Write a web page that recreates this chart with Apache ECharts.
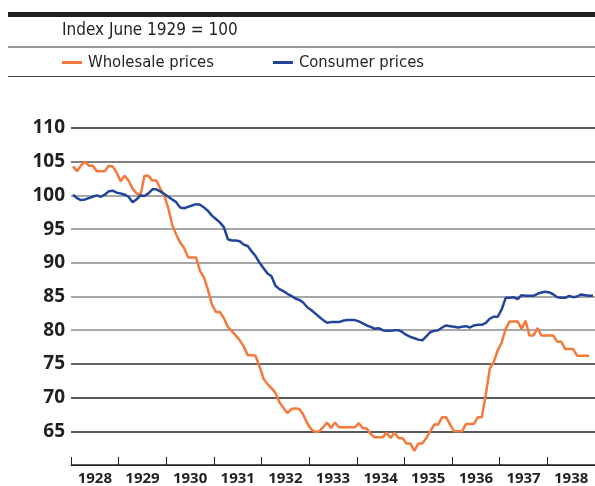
<!DOCTYPE html>
<html>
<head>
<meta charset="utf-8">
<script src="https://cdn.jsdelivr.net/npm/echarts@6/dist/echarts.min.js"></script>
<style>
  html, body { margin: 0; padding: 0; background: #fff; }
  #chart { width: 595px; height: 486px; }
</style>
</head>
<body>
<div id="chart"></div>
<script>
// monthly index, Jan 1928 .. Dec 1938 (June 1929 = 100)
const years = ['1928', '1929', '1930', '1931', '1932', '1933', '1934', '1935', '1936', '1937', '1938'];
const yTicks = [65, 70, 75, 80, 85, 90, 95, 100, 105, 110];

const wholesale = [
  104.3, 103.6, 104.4, 105.0, 104.4, 104.4, 103.6, 103.6, 103.6, 104.4, 104.3, 103.4,
  102.1, 102.9, 102.2, 101.0, 100.3, 100.0, 102.9, 102.9, 102.2, 102.2, 101.0, 100.0,
  98.1, 95.6, 94.2, 93.0, 92.2, 90.8, 90.8, 90.8, 88.8, 87.8, 86.0, 83.8,
  82.7, 82.7, 81.8, 80.5, 79.9, 79.2, 78.5, 77.6, 76.3, 76.3, 76.2, 74.6,
  72.8, 72.0, 71.4, 70.7, 69.3, 68.5, 67.7, 68.3, 68.4, 68.3, 67.5, 66.2,
  65.3, 64.9, 65.0, 65.6, 66.3, 65.5, 66.3, 65.6, 65.6, 65.6, 65.6, 65.6,
  66.2, 65.5, 65.4, 64.6, 64.1, 64.1, 64.1, 64.8, 64.0, 64.8, 64.0, 64.0,
  63.2, 63.2, 62.1, 63.2, 63.2, 64.0, 65.0, 66.0, 66.0, 67.1, 67.1, 66.0,
  65.0, 65.0, 65.0, 66.1, 66.1, 66.1, 67.1, 67.1, 70.5, 74.3, 75.3, 77.0,
  78.2, 80.2, 81.3, 81.3, 81.3, 80.2, 81.4, 79.2, 79.2, 80.3, 79.2, 79.2,
  79.2, 79.2, 78.3, 78.3, 77.2, 77.2, 77.2, 76.2, 76.2, 76.2, 76.2
];

const consumer = [
  100.1, 99.6, 99.3, 99.4, 99.6, 99.8, 100.0, 99.8, 100.1, 100.6, 100.7, 100.4,
  100.3, 100.1, 99.8, 99.0, 99.4, 100.0, 99.9, 100.3, 100.9, 100.9, 100.6, 100.2,
  99.8, 99.4, 99.0, 98.2, 98.1, 98.3, 98.5, 98.7, 98.6, 98.2, 97.7, 97.0,
  96.5, 96.0, 95.3, 93.5, 93.3, 93.3, 93.2, 92.7, 92.5, 91.7, 91.0, 90.0,
  89.2, 88.4, 88.0, 86.6, 86.1, 85.8, 85.4, 85.1, 84.7, 84.5, 84.1, 83.4,
  83.0, 82.5, 82.0, 81.5, 81.1, 81.2, 81.2, 81.2, 81.4, 81.5, 81.5, 81.5,
  81.3, 81.0, 80.7, 80.5, 80.2, 80.3, 80.0, 79.9, 79.9, 80.0, 80.0, 79.7,
  79.3, 79.0, 78.8, 78.6, 78.5, 79.1, 79.7, 79.9, 80.0, 80.4, 80.7, 80.6,
  80.5, 80.4, 80.5, 80.6, 80.4, 80.7, 80.8, 80.8, 81.1, 81.7, 82.0, 82.0,
  83.1, 84.8, 84.8, 84.9, 84.6, 85.2, 85.1, 85.1, 85.1, 85.4, 85.6, 85.7,
  85.6, 85.3, 84.9, 84.8, 84.8, 85.1, 84.9, 85.0, 85.3, 85.2, 85.1, 85.1
];

const toPoints = arr => arr.map((v, i) => [i + 0.5, v]);

const chart = echarts.init(document.getElementById('chart'));
const headFont = '"Liberation Sans Narrow", "DejaVu Sans Condensed", sans-serif';
const ink = '#231f20';

chart.setOption({
  animation: false,
  color: ['#f5793a', '#22449b'],
  legend: {
    left: 57,
    top: 49,
    itemWidth: 20,
    itemHeight: 3,
    itemGap: 59,
    icon: 'rect',
    textStyle: { fontFamily: headFont, fontSize: 16.5, color: ink, padding: [0, 0, 0, 1] },
    data: ['Wholesale prices', 'Consumer prices']
  },
  graphic: [
    { type: 'text', left: 9, top: -14, style: { text: 'Prices', font: '16px "Open Sans", sans-serif', fill: ink } },
    { type: 'text', right: -6, top: -14, style: { text: 'Chart 3', font: '16px "Open Sans", sans-serif', fill: ink } },
    { type: 'rect', shape: { x: 8, y: 12, width: 590, height: 5 }, style: { fill: ink } },
    { type: 'text', left: 62, top: 22, style: { text: 'Index June 1929 = 100', font: '17px ' + headFont, fill: ink } },
    { type: 'rect', shape: { x: 8, y: 46, width: 590, height: 2 }, style: { fill: '#9a9a9a' } },
    { type: 'rect', shape: { x: 8, y: 76, width: 590, height: 1 }, style: { fill: '#444' } }
  ],
  grid: { left: 71, right: -3, top: 128, bottom: 17 },
  xAxis: [
    {
      type: 'value',
      min: 0,
      max: 132,
      interval: 12,
      axisLine: { show: true, lineStyle: { color: ink, width: 1 } },
      axisTick: { show: true, inside: true, length: 8, lineStyle: { color: ink } },
      axisLabel: { show: false },
      splitLine: { show: false }
    },
    {
      type: 'category',
      data: years,
      position: 'bottom',
      boundaryGap: true,
      axisLine: { show: false },
      axisTick: { show: false },
      axisLabel: {
        margin: 6,
        fontFamily: '"Open Sans", sans-serif',
        fontWeight: 'bold',
        fontSize: 15,
        color: ink
      }
    }
  ],
  yAxis: {
    type: 'value',
    min: 60,
    max: 110,
    interval: 5,
    axisLine: { show: false },
    axisTick: { show: false },
    axisLabel: {
      margin: 6,
      fontFamily: '"Open Sans", sans-serif',
      fontWeight: 'bold',
      fontSize: 19,
      color: ink,
      formatter: v => (yTicks.includes(v) ? String(v) : '')
    },
    splitLine: {
      lineStyle: {
        width: 1.5,
        color: ['#222', '#222', '#222', '#333', '#8a8a8a', '#8a8a8a', '#8a8a8a', '#8a8a8a', '#8a8a8a', '#555', '#222']
      }
    }
  },
  series: [
    {
      name: 'Wholesale prices',
      type: 'line',
      xAxisIndex: 0,
      data: toPoints(wholesale),
      symbol: 'none',
      lineStyle: { width: 2.5 },
      z: 3
    },
    {
      name: 'Consumer prices',
      type: 'line',
      xAxisIndex: 0,
      data: toPoints(consumer),
      symbol: 'none',
      lineStyle: { width: 2.5 },
      z: 4
    }
  ]
});
</script>
</body>
</html>
